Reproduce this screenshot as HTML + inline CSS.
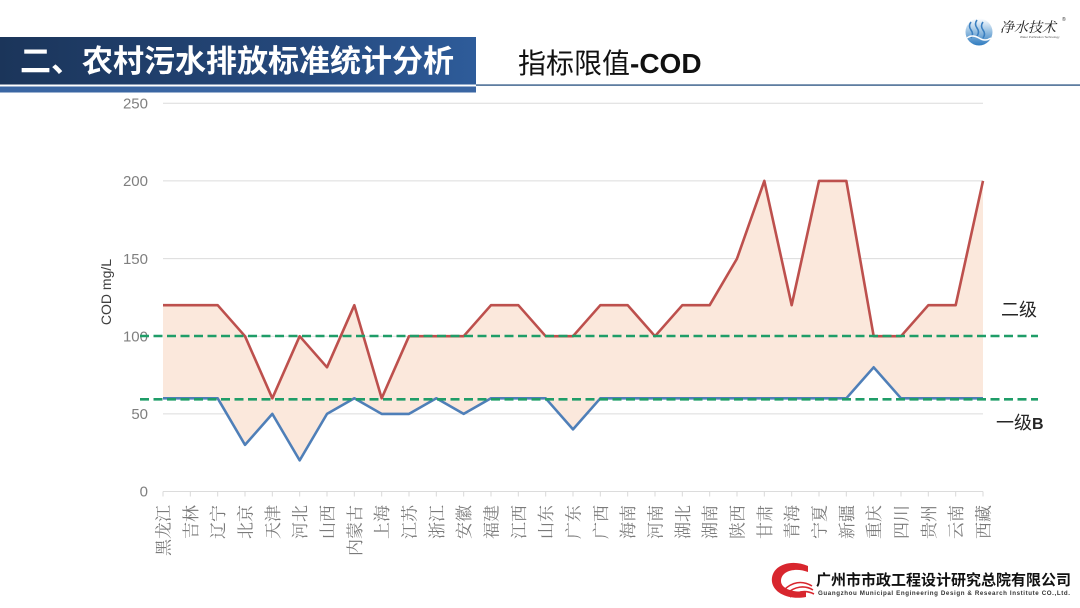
<!DOCTYPE html>
<html><head><meta charset="utf-8"><style>
html,body{margin:0;padding:0;background:#fff;}
svg{display:block;}
</style></head><body>
<svg width="1080" height="608" viewBox="0 0 1080 608" xmlns="http://www.w3.org/2000/svg">
<defs>
<linearGradient id="hb" x1="0" y1="0" x2="1" y2="0">
<stop offset="0" stop-color="#1b355a"/><stop offset="0.6" stop-color="#24477a"/><stop offset="1" stop-color="#2e5c9a"/>
</linearGradient>
<linearGradient id="lg" x1="0" y1="0" x2="0" y2="1">
<stop offset="0" stop-color="#ffffff"/><stop offset="0.45" stop-color="#9cc3e3"/><stop offset="1" stop-color="#2f7bbf"/>
</linearGradient>
</defs>
<rect width="1080" height="608" fill="#fff"/>
<!-- header -->
<rect x="0" y="37" width="476" height="47.5" fill="url(#hb)"/>
<rect x="0" y="86.5" width="476" height="6" fill="#3a66a3"/>
<rect x="476" y="84.3" width="604" height="1.6" fill="#4d6f96"/>
<text x="20" y="72" font-family="'Liberation Sans','Noto Sans CJK SC',sans-serif" font-weight="bold" font-size="31" fill="#fff">二、农村污水排放标准统计分析</text>
<text x="518" y="73" font-family="'Liberation Sans','Noto Sans CJK SC',sans-serif" font-size="28" fill="#111">指标限值<tspan font-weight="bold">-COD</tspan></text>
<!-- top-right logo -->
<circle cx="979" cy="32" r="13.5" fill="url(#lg)"/>
<path d="M971 22 q-3 4 0 8 q3 4 0 8 M977 20 q-3 4 0 8 q3 4 0 8 M983 22 q-3 4 0 8 q3 4 0 8" stroke="#3a7fc0" stroke-width="1.6" fill="none"/>
<path d="M967 38 q5 -4 12 0 q6 4 12 0" stroke="#fff" stroke-width="1.4" fill="none"/>
<text x="1000" y="32" font-family="'Noto Serif CJK SC',serif" font-size="14" fill="#222" font-style="italic">净水技术</text>
<text x="1062" y="21" font-family="'Liberation Sans',sans-serif" font-size="5" fill="#333">®</text>
<text x="1020" y="38" font-family="'Liberation Sans',sans-serif" font-size="3" fill="#555">Water Purification Technology</text>
<!-- gridlines -->
<g stroke="#dcdcdc" stroke-width="1">
<line x1="163" y1="103.3" x2="983" y2="103.3"/>
<line x1="163" y1="180.9" x2="983" y2="180.9"/>
<line x1="163" y1="258.6" x2="983" y2="258.6"/>
<line x1="163" y1="336.2" x2="983" y2="336.2"/>
<line x1="163" y1="413.9" x2="983" y2="413.9"/>
<line x1="163" y1="491.5" x2="983" y2="491.5"/>
</g>
<!-- y tick labels -->
<g font-family="'Liberation Sans',sans-serif" font-size="15" fill="#7f7f7f" text-anchor="end">
<text x="148" y="108.5">250</text>
<text x="148" y="186">200</text>
<text x="148" y="263.8">150</text>
<text x="148" y="341.4">100</text>
<text x="148" y="419">50</text>
<text x="148" y="496.7">0</text>
</g>
<text transform="translate(111,292) rotate(-90)" font-family="'Liberation Sans',sans-serif" font-size="14" fill="#404040" text-anchor="middle">COD mg/L</text>
<!-- fill area -->
<polygon fill="#fbe8dc" points="163,305.2 190.33,305.2 217.67,305.2 245,336.2 272.33,398.3 299.67,336.2 327,367.3 354.33,305.2 381.67,398.3 409,336.2 436.33,336.2 463.67,336.2 491,305.2 518.33,305.2 545.67,336.2 573,336.2 600.33,305.2 627.67,305.2 655,336.2 682.33,305.2 709.67,305.2 737,258.6 764.33,180.9 791.67,305.2 819,180.9 846.33,180.9 873.67,336.2 901,336.2 928.33,305.2 955.67,305.2 983,180.9 983,398.3 955.67,398.3 928.33,398.3 901,398.3 873.67,367.3 846.33,398.3 819,398.3 791.67,398.3 764.33,398.3 737,398.3 709.67,398.3 682.33,398.3 655,398.3 627.67,398.3 600.33,398.3 573,429.4 545.67,398.3 518.33,398.3 491,398.3 463.67,413.9 436.33,398.3 409,413.9 381.67,413.9 354.33,398.3 327,413.9 299.67,460.4 272.33,413.9 245,444.9 217.67,398.3 190.33,398.3 163,398.3"/>
<!-- x ticks -->
<g stroke="#d9d9d9" stroke-width="1">
<path d="M163 491.5v5M190.33 491.5v5M217.67 491.5v5M245 491.5v5M272.33 491.5v5M299.67 491.5v5M327 491.5v5M354.33 491.5v5M381.67 491.5v5M409 491.5v5M436.33 491.5v5M463.67 491.5v5M491 491.5v5M518.33 491.5v5M545.67 491.5v5M573 491.5v5M600.33 491.5v5M627.67 491.5v5M655 491.5v5M682.33 491.5v5M709.67 491.5v5M737 491.5v5M764.33 491.5v5M791.67 491.5v5M819 491.5v5M846.33 491.5v5M873.67 491.5v5M901 491.5v5M928.33 491.5v5M955.67 491.5v5M983 491.5v5"/>
</g>
<!-- lines -->
<polyline fill="none" stroke="#4f7fb8" stroke-width="2.6" stroke-linejoin="round" points="163,398.3 190.33,398.3 217.67,398.3 245,444.9 272.33,413.9 299.67,460.4 327,413.9 354.33,398.3 381.67,413.9 409,413.9 436.33,398.3 463.67,413.9 491,398.3 518.33,398.3 545.67,398.3 573,429.4 600.33,398.3 627.67,398.3 655,398.3 682.33,398.3 709.67,398.3 737,398.3 764.33,398.3 791.67,398.3 819,398.3 846.33,398.3 873.67,367.3 901,398.3 928.33,398.3 955.67,398.3 983,398.3"/>
<polyline fill="none" stroke="#bd504d" stroke-width="2.6" stroke-linejoin="round" points="163,305.2 190.33,305.2 217.67,305.2 245,336.2 272.33,398.3 299.67,336.2 327,367.3 354.33,305.2 381.67,398.3 409,336.2 436.33,336.2 463.67,336.2 491,305.2 518.33,305.2 545.67,336.2 573,336.2 600.33,305.2 627.67,305.2 655,336.2 682.33,305.2 709.67,305.2 737,258.6 764.33,180.9 791.67,305.2 819,180.9 846.33,180.9 873.67,336.2 901,336.2 928.33,305.2 955.67,305.2 983,180.9"/>
<!-- green dashed -->
<line x1="140" y1="336" x2="1038" y2="336" stroke="#1f9d68" stroke-width="2.6" stroke-dasharray="9,4.5"/>
<line x1="140" y1="399.3" x2="1038" y2="399.3" stroke="#1f9d68" stroke-width="2.6" stroke-dasharray="9,4.5"/>
<text x="1001" y="316" font-family="'Liberation Sans','Noto Sans CJK SC',sans-serif" font-size="18" fill="#262626">二级</text>
<text x="996" y="429" font-family="'Liberation Sans','Noto Sans CJK SC',sans-serif" font-size="18" fill="#262626">一级<tspan font-weight="bold" font-size="16">B</tspan></text>
<!-- x labels: rotated -90, end aligned at axis -->
<g font-family="'Liberation Serif','Noto Serif CJK SC',serif" font-size="17" fill="#7a7a7a" text-anchor="end">
<text transform="translate(169.5,505) rotate(-90)">黑龙江</text>
<text transform="translate(196.8,505) rotate(-90)">吉林</text>
<text transform="translate(224.2,505) rotate(-90)">辽宁</text>
<text transform="translate(251.5,505) rotate(-90)">北京</text>
<text transform="translate(278.8,505) rotate(-90)">天津</text>
<text transform="translate(306.2,505) rotate(-90)">河北</text>
<text transform="translate(333.5,505) rotate(-90)">山西</text>
<text transform="translate(360.8,505) rotate(-90)">内蒙古</text>
<text transform="translate(388.2,505) rotate(-90)">上海</text>
<text transform="translate(415.5,505) rotate(-90)">江苏</text>
<text transform="translate(442.8,505) rotate(-90)">浙江</text>
<text transform="translate(470.2,505) rotate(-90)">安徽</text>
<text transform="translate(497.5,505) rotate(-90)">福建</text>
<text transform="translate(524.8,505) rotate(-90)">江西</text>
<text transform="translate(552.2,505) rotate(-90)">山东</text>
<text transform="translate(579.5,505) rotate(-90)">广东</text>
<text transform="translate(606.8,505) rotate(-90)">广西</text>
<text transform="translate(634.2,505) rotate(-90)">海南</text>
<text transform="translate(661.5,505) rotate(-90)">河南</text>
<text transform="translate(688.8,505) rotate(-90)">湖北</text>
<text transform="translate(716.2,505) rotate(-90)">湖南</text>
<text transform="translate(743.5,505) rotate(-90)">陕西</text>
<text transform="translate(770.8,505) rotate(-90)">甘肃</text>
<text transform="translate(798.2,505) rotate(-90)">青海</text>
<text transform="translate(825.5,505) rotate(-90)">宁夏</text>
<text transform="translate(852.8,505) rotate(-90)">新疆</text>
<text transform="translate(880.2,505) rotate(-90)">重庆</text>
<text transform="translate(907.5,505) rotate(-90)">四川</text>
<text transform="translate(934.8,505) rotate(-90)">贵州</text>
<text transform="translate(962.2,505) rotate(-90)">云南</text>
<text transform="translate(989.5,505) rotate(-90)">西藏</text>
</g>
<!-- bottom-right logo -->
<path d="M808 566 C790 558 770 566 772 582 C774 594 790 600 806 597 L806 591 C794 593 781 589 781 581 C781 571 795 567 808 572 Z" fill="#d8262e"/>
<path d="M784 590 C792 582 802 580 812 586 M786 594 C795 586 805 585 813 590 M790 597 C798 591 806 590 814 594" stroke="#d8262e" stroke-width="1.6" fill="none"/>
<text x="816" y="585" font-family="'Liberation Sans','Noto Sans CJK SC',sans-serif" font-weight="bold" font-size="15" fill="#111">广州市市政工程设计研究总院有限公司</text>
<text x="818" y="595" font-family="'Liberation Sans',sans-serif" font-weight="bold" font-size="6.2" fill="#333" textLength="252">Guangzhou Municipal Engineering Design &amp; Research Institute CO.,Ltd.</text>
</svg>
</body></html>
